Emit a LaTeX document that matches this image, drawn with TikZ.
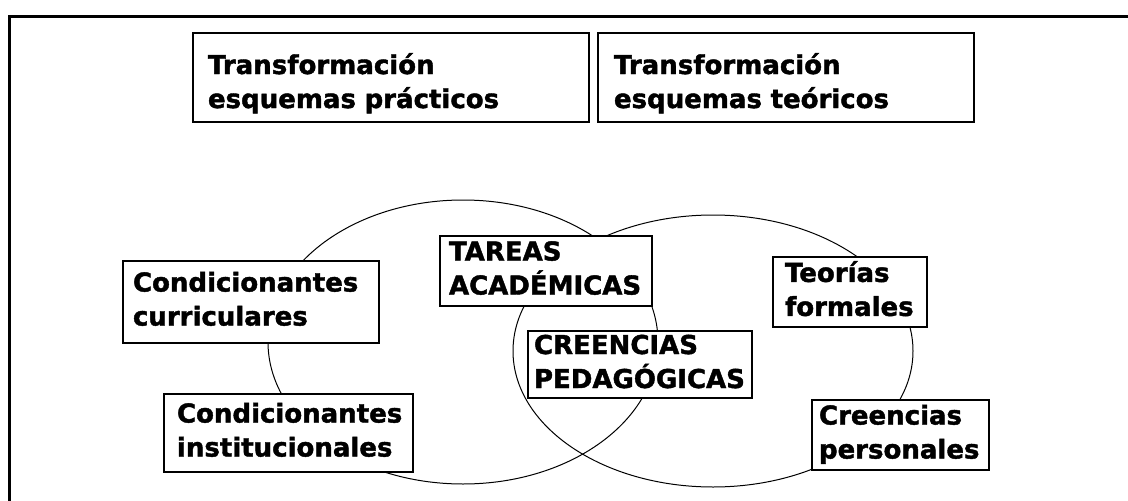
\documentclass[tikz,border=0pt]{standalone}
\usepackage{fontspec}
\newfontfamily\boxfont{DejaVu Sans}[BoldFeatures={FakeBold=1.6}]
\hyphenpenalty=10000
\exhyphenpenalty=10000
\begin{document}
\begin{tikzpicture}[x=1pt,y=-1pt,
  box/.style={draw=black, line width=1.5pt, fill=white, inner sep=0pt, align=left,
    font=\boxfont\bfseries\fontsize{26}{34}\selectfont,
    execute at begin node={\rule{0pt}{20pt}},
    execute at end node={\rule[-7pt]{0pt}{7pt}}},
  tall/.style={execute at begin node={\rule{0pt}{34pt}}},
  ring/.style={draw=black, line width=1pt},
  frameline/.style={draw=black, line width=3pt}]
\useasboundingbox (0,0) rectangle (1128,501);
\fill[white] (0,0) rectangle (1128,501);
% outer frame (top and left edges only)
\coordinate (fb) at (9,501);
\coordinate (fc) at (9,16);
\coordinate (fr) at (1128,16);
\draw[frameline] (fb) -- (fc) -- (fr);
% the two overlapping ellipses
\draw[ring] (463,342) ellipse [x radius=195, y radius=142];
\draw[ring] (713,351) ellipse [x radius=200, y radius=136];
% boxes
\node[box, tall, minimum width=396pt, minimum height=89pt, text width=366pt] (b1) at (391,77.5) {Transformación\\esquemas prácticos};
\node[box, tall, minimum width=376pt, minimum height=89pt, text width=344pt] (b2) at (786,77.5) {Transformación\\esquemas teóricos};
\node[box, minimum width=256pt, minimum height=82pt, text width=236pt] (cc) at (251,302) {Condicionantes\\curriculares};
\node[box, minimum width=249pt, minimum height=78pt, text width=223pt] (ci) at (288.5,433) {Condicionantes\\institucionales};
\node[box, minimum width=212pt, minimum height=70pt, text width=194pt] (ta) at (546,271) {TAREAS\\ACADÉMICAS};
\node[box, minimum width=224pt, minimum height=67pt, text width=212pt] (cp) at (640,364.5) {CREENCIAS\\PEDAGÓGICAS};
\node[box, minimum width=154pt, minimum height=70pt, text width=130pt] (tf) at (850,292) {Teorías\\formales};
\node[box, minimum width=177pt, minimum height=70pt, text width=163pt] (cpe) at (900.5,435) {Creencias\\personales};
\end{tikzpicture}
\end{document}
